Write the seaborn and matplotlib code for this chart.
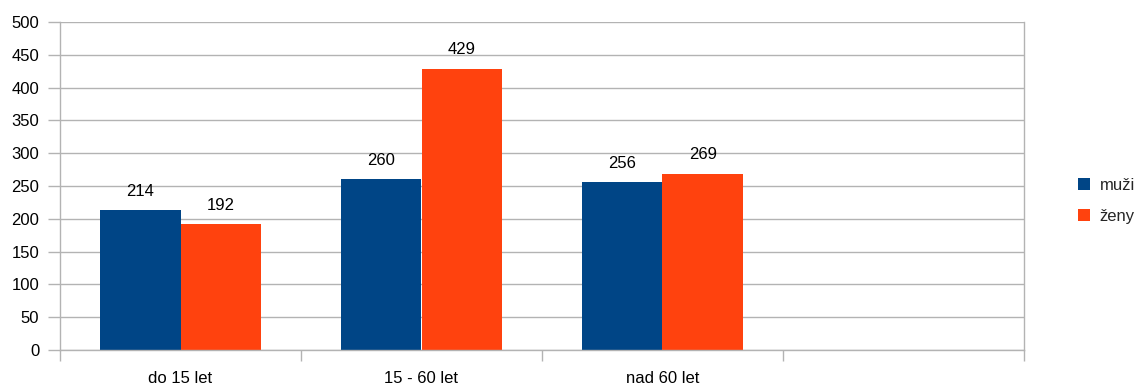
import numpy as np
import pandas as pd
import matplotlib
matplotlib.use("Agg")
import matplotlib.pyplot as plt
import seaborn as sns
from matplotlib.ticker import FixedLocator, MultipleLocator

categories = ["do 15 let", "15 - 60 let", "nad 60 let", ""]
muzi = [214, 260, 256, np.nan]
zeny = [192, 429, 269, np.nan]
series_names = ["muži", "ženy"]
colors = ["#004586", "#ff420e"]

df = pd.DataFrame({
    "kategorie": categories * 2,
    "pohlavi": [series_names[0]] * len(categories) + [series_names[1]] * len(categories),
    "pocet": muzi + zeny,
})

sns.set_theme(style="white")
plt.rcParams["font.family"] = ["Liberation Sans", "DejaVu Sans"]

fig = plt.figure(figsize=(11.37, 3.88), dpi=100)
ax = fig.add_axes([60 / 1137, 38 / 388, 964 / 1137, 328 / 388])

sns.barplot(data=df, x="kategorie", y="pocet", hue="pohlavi", order=categories,
            hue_order=series_names, palette=colors, width=2 / 3, gap=0,
            saturation=1, ax=ax, legend=True, linewidth=0)

grid_c = "#b3b3b3"
ax.set_xlim(-0.5, len(categories) - 0.5)
ax.set_ylim(0, 500)
ax.yaxis.set_major_locator(MultipleLocator(50))
ax.grid(axis="y", color=grid_c, linewidth=1)
ax.set_axisbelow(True)

ax.spines["top"].set_visible(False)
for side in ["left", "bottom", "right"]:
    ax.spines[side].set_visible(True)
    ax.spines[side].set_color(grid_c)
    ax.spines[side].set_linewidth(1)

ax.set_xlabel("")
ax.set_ylabel("")
ax.tick_params(axis="y", which="major", length=8.5, color=grid_c, width=1,
               labelsize=12, labelcolor="black", pad=6.5, left=True)
ax.set_xticks(range(len(categories)))
ax.set_xticklabels(categories)
ax.tick_params(axis="x", which="major", length=0, labelsize=12, labelcolor="black", pad=15)
ax.xaxis.set_minor_locator(FixedLocator(np.arange(-0.5, len(categories), 1.0)))
ax.tick_params(axis="x", which="minor", length=8, color=grid_c, width=1, bottom=True)

# value labels above each bar
for container in ax.containers:
    labels = ["" if np.isnan(v) else f"{v:.0f}" for v in container.datavalues]
    ax.bar_label(container, labels=labels, padding=8, fontsize=12, color="black")

leg = ax.legend(loc="center left", bbox_to_anchor=(1.056, 0.455), frameon=False,
                fontsize=12, handlelength=0.7, handleheight=0.7, handletextpad=0.6,
                labelspacing=0.95, borderaxespad=0, borderpad=0)

fig.savefig("out.png", dpi=100, facecolor="white")
